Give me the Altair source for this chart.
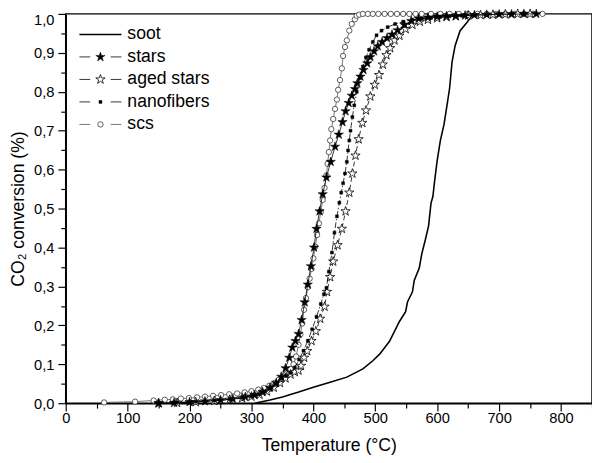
import altair as alt
import pandas as pd

# ---- data (Temperature °C, CO2 conversion fraction) ----
soot = [(305, 0.0), (330, 0.008), (350, 0.016), (375, 0.028), (400, 0.041), (427, 0.054),
        (454, 0.067), (480, 0.088), (496, 0.109), (507, 0.126), (523, 0.159), (539, 0.21),
        (549, 0.235), (552, 0.26), (560, 0.286), (563, 0.316), (571, 0.347), (575, 0.383),
        (581, 0.421), (586, 0.455), (590, 0.514), (593, 0.531), (596, 0.573), (600, 0.624),
        (605, 0.674), (611, 0.716), (616, 0.767), (620, 0.809), (624, 0.877), (629, 0.919),
        (637, 0.957), (648, 0.978), (656, 0.995), (665, 1.0), (700, 1.0)]

stars = [(150, 0.0), (175, 0.001), (200, 0.003), (225, 0.005), (250, 0.008), (270, 0.011),
         (290, 0.016), (305, 0.021), (318, 0.029), (330, 0.040), (340, 0.052), (348, 0.068),
         (355, 0.090), (361, 0.117), (366, 0.143), (371, 0.160), (376, 0.178), (381, 0.214),
         (386, 0.259), (391, 0.305), (396, 0.352), (401, 0.400), (405, 0.448), (410, 0.493),
         (415, 0.537), (421, 0.580), (428, 0.620), (435, 0.659), (441, 0.690), (447, 0.722),
         (452, 0.750), (457, 0.771), (462, 0.790), (467, 0.807), (471, 0.822), (476, 0.839),
         (481, 0.856), (487, 0.873), (492, 0.889), (498, 0.904), (504, 0.917), (511, 0.928),
         (519, 0.938), (527, 0.947), (536, 0.958), (547, 0.972), (558, 0.982), (570, 0.988),
         (585, 0.991), (600, 0.993), (615, 0.994), (630, 0.995), (645, 0.996), (660, 0.997),
         (680, 0.998), (700, 0.999), (720, 0.999), (740, 1.0), (760, 1.0)]

aged_stars = [(150, 0.0), (180, 0.001), (210, 0.003), (240, 0.006), (265, 0.009), (285, 0.013),
              (300, 0.017), (313, 0.022), (325, 0.030), (336, 0.040), (346, 0.052), (355, 0.064),
              (363, 0.074), (370, 0.080), (376, 0.084), (380, 0.096), (385, 0.117), (390, 0.134),
              (397, 0.160), (404, 0.185), (411, 0.217), (418, 0.248), (422, 0.286), (427, 0.324),
              (432, 0.364), (439, 0.406), (446, 0.448), (452, 0.493), (458, 0.541), (463, 0.590),
              (468, 0.636), (473, 0.678), (479, 0.720), (485, 0.752), (492, 0.788), (499, 0.818),
              (506, 0.843), (512, 0.870), (518, 0.894), (524, 0.912), (531, 0.932), (539, 0.944),
              (549, 0.961), (560, 0.972), (572, 0.980), (585, 0.985), (600, 0.989), (615, 0.992),
              (630, 0.994), (650, 0.996), (670, 0.997), (690, 0.998), (710, 0.999), (730, 1.0),
              (750, 1.0)]

nanofibers = [(150, 0.0), (180, 0.002), (210, 0.004), (240, 0.007), (265, 0.010), (285, 0.014),
              (300, 0.018), (312, 0.023), (322, 0.030), (332, 0.040), (341, 0.052), (349, 0.064),
              (356, 0.070), (363, 0.078), (370, 0.092), (377, 0.112), (384, 0.135), (391, 0.160),
              (398, 0.190), (405, 0.222), (412, 0.255), (417, 0.280), (421, 0.296), (425, 0.338),
              (430, 0.387), (434, 0.438), (438, 0.480), (442, 0.515), (445, 0.541), (448, 0.565),
              (451, 0.590), (454, 0.620), (456, 0.649), (458, 0.675), (460, 0.700), (463, 0.735),
              (466, 0.765), (470, 0.800), (475, 0.835), (480, 0.865), (485, 0.888), (490, 0.908),
              (496, 0.928), (502, 0.945), (510, 0.957), (520, 0.966), (532, 0.974), (545, 0.980),
              (560, 0.985), (575, 0.988), (590, 0.990), (605, 0.992), (620, 0.994), (640, 0.995),
              (660, 0.997), (680, 0.998), (700, 0.999), (720, 1.0)]

scs = [(62, 0.002), (112, 0.004), (142, 0.007), (160, 0.009), (173, 0.010), (186, 0.012),
       (199, 0.013), (212, 0.015), (225, 0.017), (238, 0.019), (251, 0.021), (264, 0.023),
       (277, 0.025), (289, 0.028), (300, 0.031), (311, 0.035), (320, 0.039), (329, 0.045),
       (337, 0.052), (344, 0.060), (351, 0.068), (357, 0.076), (363, 0.088), (368, 0.100),
       (372, 0.120), (376, 0.150), (379, 0.177), (382, 0.205), (385, 0.240), (388, 0.270),
       (391, 0.298), (394, 0.320), (397, 0.345), (400, 0.372), (403, 0.402), (406, 0.432),
       (409, 0.462), (412, 0.492), (415, 0.522), (418, 0.553), (421, 0.585), (423, 0.615),
       (425, 0.645), (427, 0.675), (429, 0.704), (432, 0.730), (435, 0.756), (438, 0.780),
       (440, 0.805), (443, 0.830), (446, 0.860), (448, 0.892), (451, 0.915), (454, 0.932),
       (458, 0.957), (462, 0.974), (467, 0.986), (470, 0.995), (474, 0.998), (480, 1.0),
       (488, 1.0), (496, 1.0), (505, 1.0), (515, 1.0), (525, 1.0), (535, 1.0), (545, 1.0),
       (555, 1.0), (565, 1.0), (575, 1.0), (590, 1.0), (605, 1.0), (620, 1.0), (635, 1.0),
       (650, 1.0), (665, 1.0), (680, 1.0), (695, 1.0), (710, 1.0), (725, 1.0), (740, 1.0),
       (755, 1.0), (770, 1.0)]

series_names = ["soot", "stars", "aged stars", "nanofibers", "scs"]
series_data = [soot, stars, aged_stars, nanofibers, scs]

x_ticks = list(range(0, 851, 50))
y_ticks = [round(i * 0.05, 2) for i in range(0, 21)]

rows = []
for name, pts in zip(series_names, series_data):
    for t, c in pts:
        rows.append({"series": name, "T": t, "C": c})
df = pd.DataFrame(rows)

FONT = "Liberation Sans"
STAR = ("M0,-1L0.225,-0.309L0.951,-0.309L0.363,0.118L0.588,0.809L0,0.382"
        "L-0.588,0.809L-0.363,0.118L-0.951,-0.309L-0.225,-0.309Z")

x_enc = alt.X(
    "T:Q",
    scale=alt.Scale(domain=[0, 850], nice=False),
    axis=alt.Axis(
        values=x_ticks,
        labelExpr="datum.value % 100 === 0 ? datum.label : ''",
        tickSize={"condition": {"test": "datum.value % 100 === 0", "value": 8}, "value": 5},
        labelFlush=False,
        labelOverlap=False,
        labelPadding=0,
        titlePadding=11,
        title="Temperature (°C)",
        grid=False,
    ),
)
y_test = "abs(datum.value*10 - round(datum.value*10)) < 0.001"
y_enc = alt.Y(
    "C:Q",
    scale=alt.Scale(domain=[0, 1], nice=False),
    axis=alt.Axis(
        values=y_ticks,
        labelExpr=f"{y_test} ? replace(format(datum.value, '.1f'), '.', ',') : ''",
        tickSize={"condition": {"test": y_test, "value": 8}, "value": 5},
        labelOffset={"condition": {"test": "datum.value > 0.99", "value": 6}, "value": 0},
        labelOverlap=False,
        labelPadding=4,
        titlePadding=6,
        title="CO₂ conversion (%)",
        grid=False,
    ),
)


def base(name):
    return alt.Chart(df).transform_filter(alt.datum.series == name)


layers = [
    base("soot").mark_line(color="black", strokeWidth=1.6).encode(x=x_enc, y=y_enc),
    base("scs").mark_line(color="#555555", strokeWidth=0.8).encode(x=x_enc, y=y_enc),
    base("scs").mark_point(shape="circle", size=30, filled=True, fill="white",
                           stroke="#333333", strokeWidth=0.8, opacity=1).encode(x=x_enc, y=y_enc),
    base("aged stars").mark_line(color="black", strokeWidth=0.8, strokeDash=[5, 3]).encode(x=x_enc, y=y_enc),
    base("aged stars").mark_point(shape=STAR, size=100, filled=True, fill="white",
                                  stroke="black", strokeWidth=0.8, opacity=1).encode(x=x_enc, y=y_enc),
    base("nanofibers").mark_line(color="black", strokeWidth=0.8, strokeDash=[6, 2, 1.5, 2]).encode(x=x_enc, y=y_enc),
    base("nanofibers").mark_point(shape="square", size=9, filled=True, fill="black",
                                  stroke="black", strokeWidth=0.5, opacity=1).encode(x=x_enc, y=y_enc),
    base("stars").mark_line(color="black", strokeWidth=0.8).encode(x=x_enc, y=y_enc),
    base("stars").mark_point(shape=STAR, size=100, filled=True, fill="black",
                             stroke="black", strokeWidth=0.5, opacity=1).encode(x=x_enc, y=y_enc),
]

# ---- manual legend (top-left inside the plot) ----
one = pd.DataFrame({"k": [0]})
marker_styles = {
    "stars": dict(shape=STAR, size=100, filled=True, fill="black", stroke="black", strokeWidth=0.5),
    "aged stars": dict(shape=STAR, size=100, filled=True, fill="white", stroke="black", strokeWidth=0.8),
    "nanofibers": dict(shape="square", size=9, filled=True, fill="black", stroke="black", strokeWidth=0.5),
    "scs": dict(shape="circle", size=30, filled=True, fill="white", stroke="#333333", strokeWidth=0.8),
}
line_colors = {"soot": "black", "stars": "black", "aged stars": "black",
               "nanofibers": "black", "scs": "#555555"}
for i, name in enumerate(series_names):
    ly = 21 + 23 * i
    if name == "soot":
        layers.append(alt.Chart(one).mark_rule(color="black", strokeWidth=1.6).encode(
            x=alt.value(14), x2=alt.value(57), y=alt.value(ly)))
    else:
        for a, b in [(14, 25), (46, 57)]:
            layers.append(alt.Chart(one).mark_rule(color=line_colors[name], strokeWidth=0.8).encode(
                x=alt.value(a), x2=alt.value(b), y=alt.value(ly)))
        layers.append(alt.Chart(one).mark_point(opacity=1, **marker_styles[name]).encode(
            x=alt.value(35.5), y=alt.value(ly)))
    layers.append(alt.Chart(one).mark_text(align="left", baseline="middle", font=FONT,
                                           fontSize=18, color="black").encode(
        x=alt.value(63), y=alt.value(ly), text=alt.value(name)))

chart = alt.layer(*layers).properties(
    width=538, height=398,
    autosize=alt.AutoSizeParams(type="none"),
    padding={"left": 59, "top": 1, "right": 0, "bottom": 52},
).configure_view(
    stroke="black", strokeWidth=1.5
).configure_axis(
    labelFont=FONT, titleFont=FONT, labelFontSize=15, titleFontSize=18,
    labelColor="black", titleColor="black", titleFontWeight="normal",
    domainColor="black", domainWidth=1.5, tickColor="black", tickWidth=1.2,
)

chart.save("out.html", embed_options={"renderer": "svg", "actions": False})
